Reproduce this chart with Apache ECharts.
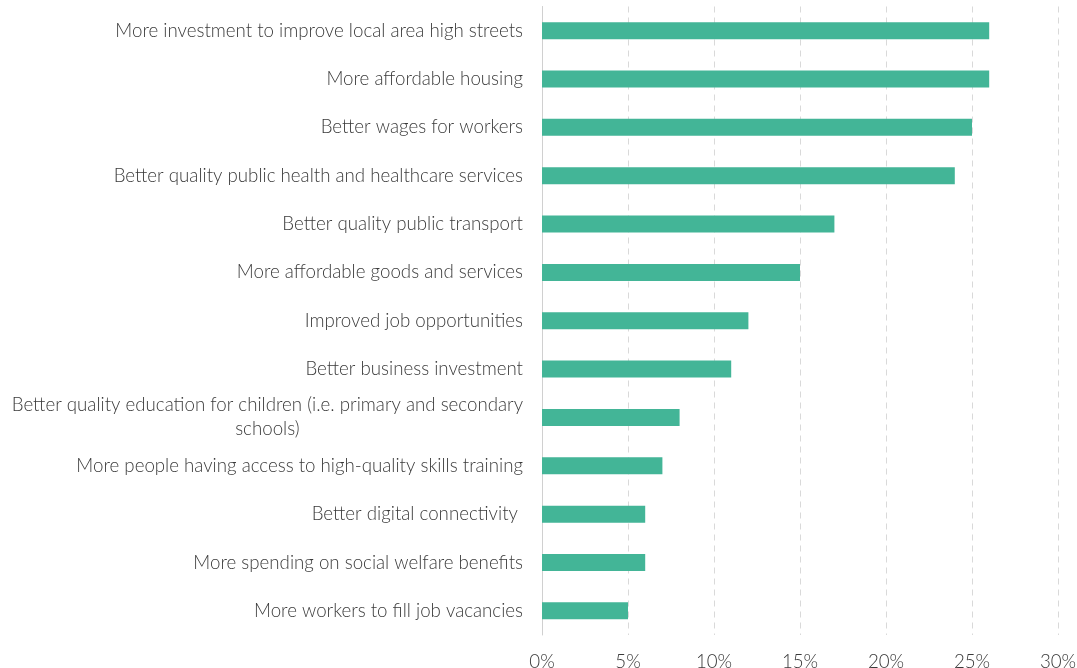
<!DOCTYPE html>
<html>
<head>
<meta charset="utf-8">
<script src="https://cdn.jsdelivr.net/npm/echarts@6/dist/echarts.min.js"></script>
<style>
  html, body { margin: 0; padding: 0; background: #fff; }
  #chart { width: 1077px; height: 668px; }
</style>
</head>
<body>
<div id="chart"></div>
<script>
// Priorities for local areas, share of respondents (%)
const categories = [
  'More investment to improve local area high streets',
  'More affordable housing',
  'Better wages for workers',
  'Better quality public health and healthcare services',
  'Better quality public transport',
  'More affordable goods and services',
  'Improved job opportunities',
  'Better business investment',
  'Better quality education for children (i.e. primary and secondary\nschools)',
  'More people having access to high-quality skills training',
  'Better digital connectivity ',
  'More spending on social welfare benefits',
  'More workers to fill job vacancies'
];
const values = [26, 26, 25, 24, 17, 15, 12, 11, 8, 7, 6, 6, 5];
const xTicks = { min: 0, max: 30, interval: 5 };

const chart = echarts.init(document.getElementById('chart'));
const fontFamily = 'Lato, "Open Sans", sans-serif';
const labelSize = 18.7;

chart.setOption({
  animation: false,
  grid: {
    left: 542, right: 19, top: 6.5, bottom: 33,
    containLabel: false,
    outerBoundsMode: 'none'
  },
  xAxis: {
    type: 'value',
    min: xTicks.min,
    max: xTicks.max,
    interval: xTicks.interval,
    axisLine: { show: false },
    axisTick: { show: false },
    axisLabel: {
      formatter: '{value}%',
      color: '#3a3a3a',
      fontFamily: fontFamily,
      fontSize: labelSize,
      fontWeight: 300,
      margin: 17
    },
    splitLine: { show: true, lineStyle: { color: '#d9d9d9', type: [6, 5], width: 1 } }
  },
  yAxis: {
    type: 'category',
    inverse: true,
    data: categories,
    axisLine: { show: true, lineStyle: { color: '#d0d0d0', width: 1 } },
    axisTick: { show: false },
    axisLabel: {
      margin: 19,
      color: '#3a3a3a',
      fontFamily: fontFamily,
      fontSize: labelSize,
      fontWeight: 300,
      lineHeight: 24,
      formatter: function (v) {
        if (v.indexOf('\n') >= 0) {
          return v.split('\n').map(s => '{c|' + s + '}').join('\n');
        }
        return v;
      },
      rich: {
        c: {
          align: 'center',
          color: '#3a3a3a',
          fontFamily: fontFamily,
          fontSize: labelSize,
          fontWeight: 300,
          lineHeight: 24
        }
      }
    }
  },
  series: [{
    type: 'bar',
    data: values,
    barWidth: 17,
    itemStyle: { color: '#43b597' }
  }]
});
</script>
</body>
</html>
